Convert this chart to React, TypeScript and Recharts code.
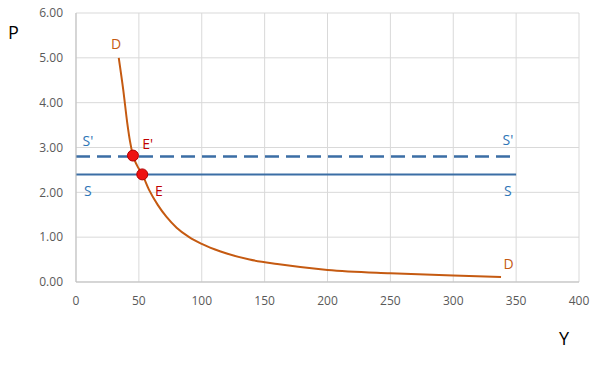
import React from "react";
import {
  ComposedChart,
  Line,
  Scatter,
  XAxis,
  YAxis,
  CartesianGrid,
} from "recharts";

// demand curve D (Y, P)
const demandY = [34, 37.6, 40.8, 43, 45.3, 48.5, 52.7, 58, 65, 72, 80, 90, 100, 115, 138, 160, 200, 250, 300, 338];
const demandP = [5.0, 4.28, 3.54, 3.13, 2.82, 2.6, 2.4, 2.06, 1.72, 1.45, 1.21, 1.0, 0.85, 0.68, 0.5, 0.4, 0.27, 0.195, 0.145, 0.11];

// supply lines S and S'
const supplyY = [0, 350];
const supplyP = 2.4;
const supplyP2 = 2.8;

// equilibrium points E and E'
const eqY = [52.7, 45.3];
const eqP = [2.4, 2.82];

// text labels (data coords)
const labelText = ["D", "D", "S'", "S'", "S", "S", "E'", "E"];
const labelY = [31.8, 344, 9.5, 343.5, 9.5, 343.5, 57, 66];
const labelP = [5.33, 0.42, 3.15, 3.17, 2.03, 2.03, 3.08, 2.05];
const labelColor = ["#c55a11", "#c55a11", "#2e75b6", "#2e75b6", "#2e75b6", "#2e75b6", "#c00000", "#c00000"];

const xTicks = [0, 50, 100, 150, 200, 250, 300, 350, 400];
const yTicks = [0, 1, 2, 3, 4, 5, 6];

const demand = demandY.map((y, i) => ({ Y: y, P: demandP[i] }));
const supply = supplyY.map((y) => ({ Y: y, P: supplyP }));
const supply2 = supplyY.map((y) => ({ Y: y, P: supplyP2 }));
const points = eqY.map((y, i) => ({ Y: y, P: eqP[i] }));
const labels = labelText.map((t, i) => ({ Y: labelY[i], P: labelP[i], text: t, color: labelColor[i] }));

const font = "'Open Sans', sans-serif";
const tickStyle = { fontSize: 12, fill: "#595959", fontFamily: font };

export default function App() {
  return (
    <div style={{ position: "relative", width: 605, height: 367, margin: -8, background: "#fff" }}>
      <ComposedChart width={605} height={367} margin={{ top: 13, right: 26, left: 0, bottom: 0 }}>
        <CartesianGrid stroke="#d9d9d9" strokeWidth={1} />
        <XAxis
          type="number"
          dataKey="Y"
          domain={[0, 400]}
          ticks={xTicks}
          tick={tickStyle}
          tickLine={false}
          tickMargin={8}
          axisLine={{ stroke: "#bfbfbf" }}
          height={85}
          allowDataOverflow
        />
        <YAxis
          type="number"
          dataKey="P"
          domain={[0, 6]}
          ticks={yTicks}
          tick={tickStyle}
          tickFormatter={(v: number) => v.toFixed(2)}
          tickLine={false}
          tickMargin={7}
          axisLine={{ stroke: "#bfbfbf" }}
          width={76}
        />
        <Line
          data={supply2}
          dataKey="P"
          stroke="#3b6ea5"
          strokeWidth={2.5}
          strokeDasharray="14 7"
          dot={false}
          isAnimationActive={false}
        />
        <Line
          data={supply}
          dataKey="P"
          stroke="#3b6ea5"
          strokeWidth={2}
          dot={false}
          isAnimationActive={false}
        />
        <Line
          data={demand}
          dataKey="P"
          type="monotone"
          stroke="#c55a11"
          strokeWidth={2}
          dot={false}
          isAnimationActive={false}
        />
        <Scatter
          data={points}
          dataKey="P"
          isAnimationActive={false}
          shape={(p: any) => <circle cx={p.cx} cy={p.cy} r={5.5} fill="#ee1111" stroke="#b00000" strokeWidth={1} />}
        />
        <Scatter
          data={labels}
          dataKey="P"
          isAnimationActive={false}
          shape={(p: any) => (
            <text
              x={p.cx}
              y={p.cy}
              textAnchor="middle"
              dominantBaseline="central"
              fontSize={14}
              fontFamily={font}
              fill={p.payload.color}
            >
              {p.payload.text}
            </text>
          )}
        />
      </ComposedChart>
      <div style={{ position: "absolute", left: 8, top: 20, fontSize: 18, fontFamily: font, color: "#000" }}>P</div>
      <div style={{ position: "absolute", left: 559, top: 326, fontSize: 18, fontFamily: font, color: "#000" }}>Y</div>
    </div>
  );
}
